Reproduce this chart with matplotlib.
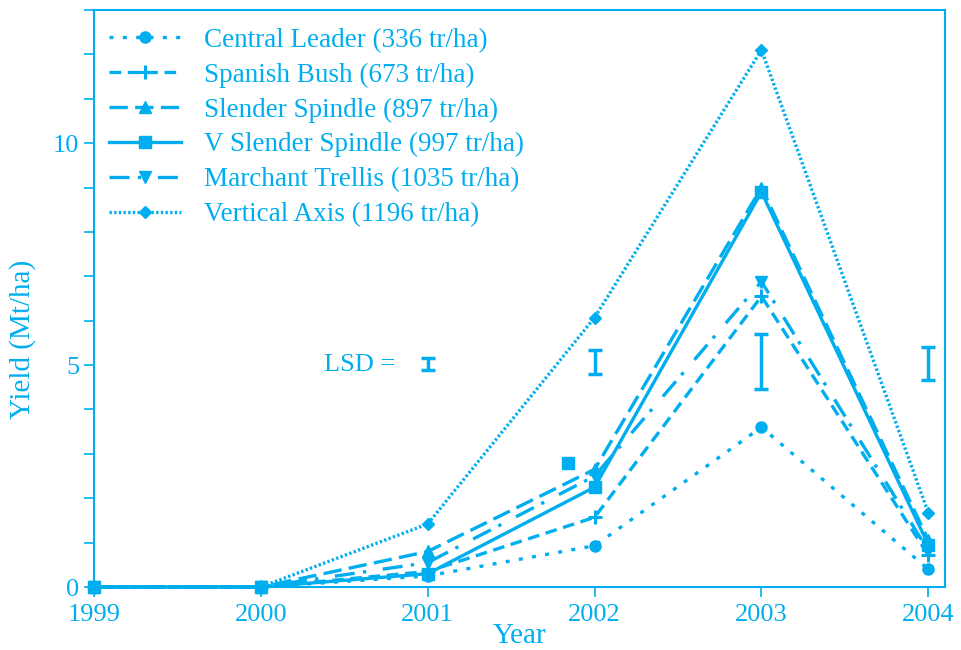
import matplotlib
matplotlib.use("Agg")
import matplotlib.pyplot as plt
from matplotlib.ticker import MultipleLocator

C = "#00AEEF"
plt.rcParams['font.family'] = ['Liberation Serif', 'DejaVu Serif']

years = [1999, 2000, 2001, 2002, 2003, 2004]
labels = ["Central Leader (336 tr/ha)", "Spanish Bush (673 tr/ha)",
          "Slender Spindle (897 tr/ha)", "V Slender Spindle (997 tr/ha)",
          "Marchant Trellis (1035 tr/ha)", "Vertical Axis (1196 tr/ha)"]
central_leader = [0.0, 0.0, 0.25, 0.93, 3.6, 0.4]
spanish_bush = [0.0, 0.0, 0.35, 1.57, 6.55, 0.72]
slender_spindle = [0.0, 0.0, 0.8, 2.65, 9.0, 1.06]
v_slender_spindle = [0.0, 0.0, 0.3, 2.25, 8.9, 0.95]
marchant_trellis = [0.0, 0.0, 0.55, 2.5, 6.88, 0.82]
vertical_axis = [0.0, 0.0, 1.42, 6.07, 12.1, 1.67]
stray_square_x = [2001.84]
stray_square_y = [2.8]

lsd_years = [2001, 2002, 2003, 2004]
lsd_center = [5.03, 5.07, 5.07, 5.03]
lsd_half = [0.13, 0.26, 0.62, 0.37]

series = [central_leader, spanish_bush, slender_spindle, v_slender_spindle,
          marchant_trellis, vertical_axis]
markers = ['o', '+', '^', 's', 'v', 'D']
msizes = [8, 10, 8, 8, 8, 6]
styles = [(0, (1.2, 2.8)), (0, (3.5, 2)), (0, (5.5, 2.2)), '-',
          (0, (6, 2.5, 1, 5)), (0, (0.7, 0.7))]

fig = plt.figure(figsize=(9.61, 6.5), dpi=100)
ax = fig.add_axes([94/961, 63/650, (945-94)/961, (587-10)/650])

for y, lab, m, ms, ls in zip(series, labels, markers, msizes, styles):
    ax.plot(years, y, color=C, linestyle=ls, linewidth=2.4, marker=m,
            markersize=ms, markeredgewidth=2.2 if m == '+' else 1,
            markeredgecolor=C, markerfacecolor=C, label=lab, clip_on=False)
ax.plot(stray_square_x, stray_square_y, 's', color=C, markersize=8)

ax.errorbar(lsd_years, lsd_center, yerr=lsd_half, fmt='none', ecolor=C,
            elinewidth=2.5, capsize=5, capthick=2.5, clip_on=False)
ax.text(2000.38, 5.0, "LSD =", color=C, fontsize=19, ha='left', va='center')

ax.set_xlim(1999, 2004.1)
ax.set_ylim(0, 13)
ax.set_xticks(years)
ax.set_yticks([0, 5, 10])
ax.yaxis.set_minor_locator(MultipleLocator(1))
for s in ax.spines.values():
    s.set_color(C)
    s.set_linewidth(1.5)
ax.tick_params(axis='both', which='both', direction='out', color=C,
               labelcolor=C, labelsize=19, length=7, width=1.2)
ax.tick_params(axis='x', pad=5)
ax.set_xlabel("Year", color=C, fontsize=21, labelpad=-2)
ax.set_ylabel("Yield (Mt/ha)", color=C, fontsize=21)
ax.yaxis.set_label_coords(-0.068, 0.43)

leg = ax.legend(loc='upper left', frameon=False, fontsize=19.5, handlelength=2.65,
                labelspacing=0.36, handletextpad=0.85, borderaxespad=0.15,
                bbox_to_anchor=(0.0, 0.995))
for t in leg.get_texts():
    t.set_color(C)

fig.savefig("out.png", dpi=100)
